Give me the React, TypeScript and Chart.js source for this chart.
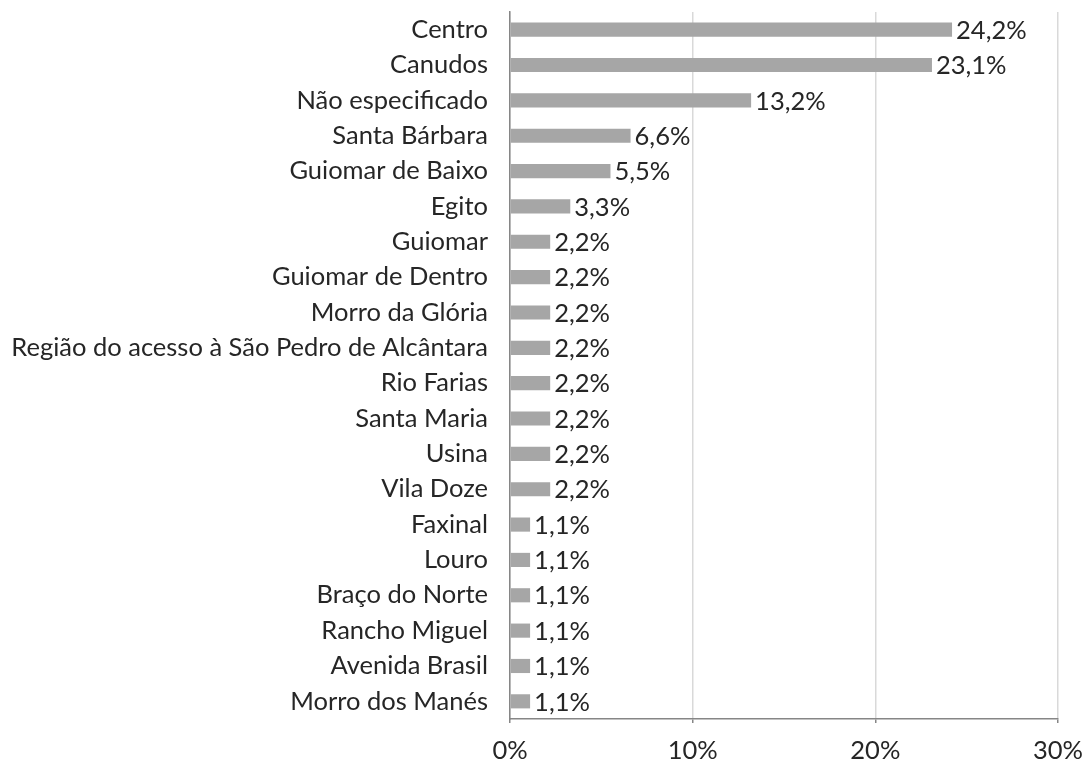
import React, { useEffect, useRef } from "react";
import { Chart, registerables } from "chart.js";

Chart.register(...registerables);

const categories = [
  "Centro",
  "Canudos",
  "Não especificado",
  "Santa Bárbara",
  "Guiomar de Baixo",
  "Egito",
  "Guiomar",
  "Guiomar de Dentro",
  "Morro da Glória",
  "Região do acesso à São Pedro de Alcântara",
  "Rio Farias",
  "Santa Maria",
  "Usina",
  "Vila Doze",
  "Faxinal",
  "Louro",
  "Braço do Norte",
  "Rancho Miguel",
  "Avenida Brasil",
  "Morro dos Manés",
];

const values = [24.2, 23.1, 13.2, 6.6, 5.5, 3.3, 2.2, 2.2, 2.2, 2.2, 2.2, 2.2, 2.2, 2.2, 1.1, 1.1, 1.1, 1.1, 1.1, 1.1];

const xTicks = [0, 10, 20, 30];

const FONT = "Lato, 'Open Sans', sans-serif";
const SIZE = 25.5;
const TEXT = "#262626";

const fmt = (v: number) => v.toFixed(1).replace(".", ",") + "%";

const valueLabels = {
  id: "valueLabels",
  afterDatasetsDraw(chart: any) {
    const ctx = chart.ctx;
    const meta = chart.getDatasetMeta(0);
    ctx.save();
    ctx.font = `${SIZE}px ${FONT}`;
    ctx.fillStyle = TEXT;
    ctx.textAlign = "left";
    ctx.textBaseline = "middle";
    meta.data.forEach((bar: any, i: number) => {
      ctx.fillText(fmt(values[i]), bar.x + 4, bar.y + 1);
    });
    ctx.restore();
  },
};

export default function App() {
  const ref = useRef<HTMLCanvasElement | null>(null);
  useEffect(() => {
    document.body.style.margin = "0";
    const chart = new Chart(ref.current!, {
      type: "bar",
      data: {
        labels: categories,
        datasets: [
          {
            data: values,
            backgroundColor: "#a6a6a6",
            categoryPercentage: 1,
            barPercentage: 0.4,
          },
        ],
      },
      plugins: [valueLabels],
      options: {
        indexAxis: "y",
        animation: false,
        responsive: false,
        maintainAspectRatio: false,
        layout: { padding: { top: 12, right: 26, bottom: 0, left: 0 } },
        plugins: {
          legend: { display: false },
          tooltip: { enabled: false },
        },
        scales: {
          x: {
            min: 0,
            max: 30,
            afterBuildTicks: (scale: any) => {
              scale.ticks = xTicks.map((v) => ({ value: v }));
            },
            afterFit: (scale: any) => {
              scale.height = 41;
              scale.paddingLeft = 0;
              scale.paddingRight = 0;
            },
            grid: {
              color: "#d9d9d9",
              lineWidth: 1.5,
              tickColor: "#868686",
              tickLength: 4,
              drawTicks: true,
            },
            border: { color: "#868686", width: 1.5 },
            ticks: {
              padding: 12,
              color: TEXT,
              font: { family: FONT, size: SIZE },
              callback: (v: any) => v + "%",
              maxRotation: 0,
            },
          },
          y: {
            afterFit: (scale: any) => {
              scale.width = 510;
              scale.paddingTop = 0;
              scale.paddingBottom = 0;
            },
            grid: { display: false, drawTicks: false },
            border: { color: "#868686", width: 1.5 },
            ticks: {
              padding: 22,
              color: TEXT,
              font: { family: FONT, size: SIZE },
              autoSkip: false,
            },
          },
        },
      },
    });
    return () => chart.destroy();
  }, []);
  return (
    <div style={{ position: "absolute", left: 0, top: 0, width: 1084, height: 760, background: "#fff" }}>
      <canvas ref={ref} width={1084} height={760} />
    </div>
  );
}
